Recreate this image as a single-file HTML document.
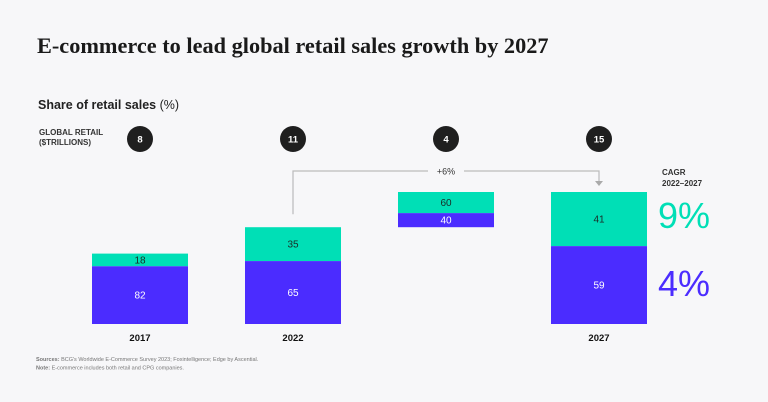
<!DOCTYPE html>
<html><head><meta charset="utf-8"><style>
body{margin:0;background:#f7f7f9;}
svg{display:block;font-family:"Liberation Sans",sans-serif;}
</style></head><body>
<svg width="768" height="402" viewBox="0 0 768 402">
<rect width="768" height="402" fill="#f7f7f9"/>
<text x="37" y="53" font-family="Liberation Serif,serif" font-weight="bold" font-size="22.3" fill="#1a1a1a">E-commerce to lead global retail sales growth by 2027</text>
<text x="38" y="109" font-size="12.5" font-weight="bold" fill="#222">Share of retail sales <tspan font-weight="normal">(%)</tspan></text>
<text x="39" y="135" font-size="8" font-weight="bold" fill="#333">GLOBAL RETAIL</text>
<text x="39" y="145" font-size="8" font-weight="bold" fill="#333">($TRILLIONS)</text>
<g id="chart"></g>
<text x="662" y="175" font-size="8" font-weight="bold" fill="#333">CAGR</text>
<text x="662" y="186" font-size="8" font-weight="bold" fill="#333">2022–2027</text>
<text x="658" y="228" font-size="36" fill="#00dfb6">9%</text>
<text x="658" y="296" font-size="36" fill="#4b2cff">4%</text>
<text x="36" y="361" font-size="5.5" fill="#777"><tspan font-weight="bold">Sources:</tspan> BCG's Worldwide E-Commerce Survey 2023; Foxintelligence; Edge by Ascential.</text>
<text x="36" y="369.5" font-size="5.5" fill="#777"><tspan font-weight="bold">Note:</tspan> E-commerce includes both retail and CPG companies.</text>
</svg>
<script>
const categories=["2017","2022","","2027"];
const totals=[8,11,4,15];
const ecommerce=[18,35,60,41];
const store=[82,65,40,59];
const growthLabel="+6%";
const NS="http://www.w3.org/2000/svg";
const g=document.getElementById('chart');
const base=324, scale=8.8, barW=96;
const xc=i=>140+i*153;
function el(t,a,p){const e=document.createElementNS(NS,t);for(const k in a)e.setAttribute(k,a[k]);(p||g).appendChild(e);return e;}
const h=v=>v*scale;
const tops=[];
for(let i=0;i<categories.length;i++){
  let bottom, H=h(totals[i]);
  if(i===2){ bottom=base-h(totals[1]); const top3=base-h(totals[3]); H=bottom-top3; }
  else bottom=base;
  const top=bottom-H; tops.push(top);
  const blueH=H*store[i]/100, tealH=H-blueH;
  const t=el('rect',{x:xc(i)-barW/2,y:top,width:barW,height:tealH,fill:'#00dfb6'});
  
  
  const b=el('rect',{x:xc(i)-barW/2,y:top+tealH,width:barW,height:blueH,fill:'#4b2cff'});
  
  
  const tl=el('text',{x:xc(i),y:top+tealH/2+3.5,'text-anchor':'middle','font-size':10,fill:'#1a2a25'});tl.textContent=ecommerce[i];
  
  
  const bl=el('text',{x:xc(i),y:top+tealH+blueH/2+3.5,'text-anchor':'middle','font-size':10,fill:'#fff'});bl.textContent=store[i];
  
  
  const c=el('circle',{cx:xc(i),cy:139,r:13,fill:'#1f1f1f'});
  
  
  const ct=el('text',{x:xc(i),y:142.5,'text-anchor':'middle','font-size':9.5,'font-weight':'bold',fill:'#fff'});ct.textContent=totals[i];
  
  
  if(categories[i]){const xl=el('text',{x:xc(i),y:341,'text-anchor':'middle','font-size':9.5,'font-weight':'bold',fill:'#111'});xl.textContent=categories[i];
  
  }
}
const ly=171;
const conn=el('path',{d:`M${xc(1)} ${tops[1]-13} V${ly} H${xc(2)-18} M${xc(2)+18} ${ly} H${xc(3)} V${tops[3]-9}`,fill:'none',stroke:'#bbb','stroke-width':1.2});


const ar=el('path',{d:`M${xc(3)-4} ${tops[3]-11} L${xc(3)+4} ${tops[3]-11} L${xc(3)} ${tops[3]-6} Z`,fill:'#aaa'});


const gl=el('text',{x:xc(2),y:ly+3.5,'text-anchor':'middle','font-size':9,fill:'#333'});gl.textContent=growthLabel;


</script>
</body></html>
